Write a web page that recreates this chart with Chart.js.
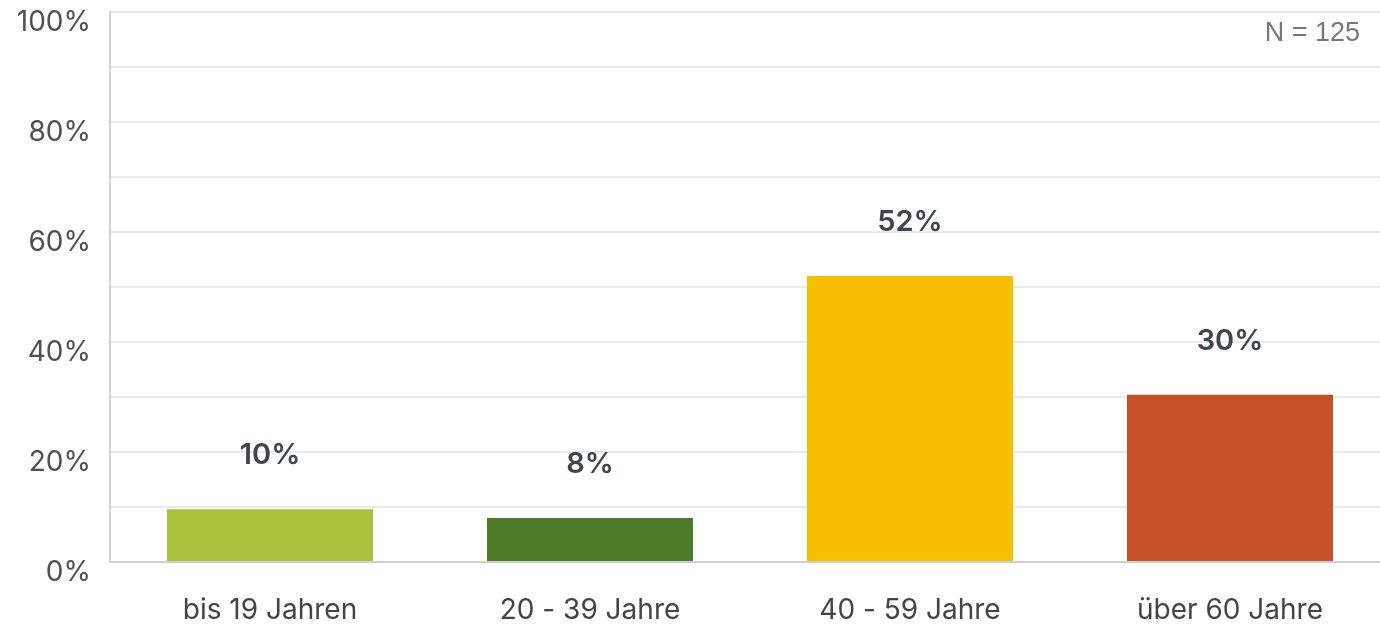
<!DOCTYPE html>
<html>
<head>
<meta charset="utf-8">
<script src="https://cdn.jsdelivr.net/npm/chart.js@4"></script>
<style>
  html, body { margin: 0; padding: 0; background: #fff; overflow: hidden; }
  #wrap { width: 1390px; height: 625px; position: relative; }
</style>
</head>
<body>
<div id="wrap"><canvas id="myChart"></canvas></div>
<script>
const categories = ["bis 19 Jahren", "20 - 39 Jahre", "40 - 59 Jahre", "über 60 Jahre"];
const values = [9.6, 8, 52, 30.4];
const labels = ["10%", "8%", "52%", "30%"];
const colors = ["#a8c23d", "#4e7b27", "#f8be00", "#c65028"];
const sampleText = "N = 125";

const barLabels = {
  id: 'barLabels',
  afterDatasetsDraw(chart) {
    const ctx = chart.ctx;
    const meta = chart.getDatasetMeta(0);
    ctx.save();
    ctx.font = "600 29px Inter, 'Liberation Sans', sans-serif";
    ctx.fillStyle = "#3d4550";
    ctx.textAlign = "center";
    ctx.textBaseline = "middle";
    meta.data.forEach((bar, i) => {
      ctx.fillText(labels[i], bar.x, bar.y - 54);
    });
    // N = 125
    ctx.font = "27px 'Liberation Sans', Arial, sans-serif";
    ctx.fillStyle = "#777";
    ctx.textAlign = "right";
    ctx.fillText(sampleText, 1360, 34);
    ctx.restore();
  }
};

const ctx = document.getElementById('myChart').getContext('2d');
const myChart = new Chart(ctx, {
  type: 'bar',
  data: {
    labels: categories,
    datasets: [{
      data: values,
      backgroundColor: colors,
      barPercentage: 0.644,
      categoryPercentage: 1
    }]
  },
  options: {
    responsive: true,
    maintainAspectRatio: false,
    animation: false,
    layout: { padding: { top: 12, right: 0, left: 0, bottom: 0 } },
    plugins: {
      legend: { display: false },
      tooltip: { enabled: false }
    },
    scales: {
      x: {
        grid: { display: false, drawTicks: false },
        border: { color: "#cfcfcf", width: 2 },
        ticks: {
          color: "#444",
          font: { family: "Inter, 'Liberation Sans', sans-serif", size: 28 },
          padding: 32
        },
        afterFit(scale) { scale.height = 63; scale.paddingLeft = 0; scale.paddingRight = 0; }
      },
      y: {
        min: 0,
        max: 100,
        grid: { color: "#e9ebeb", lineWidth: 2, drawTicks: false },
        border: { color: "#d4d4d4", width: 2 },
        ticks: {
          stepSize: 10,
          color: "#4f4f4f",
          font: { family: "Inter, 'Liberation Sans', sans-serif", size: 28 },
          padding: 19,
          labelOffset: 11,
          callback: (v) => v % 20 === 0 ? v + "%" : ""
        },
        afterFit(scale) { scale.width = 110; scale.paddingTop = 0; scale.paddingBottom = 0; }
      }
    }
  },
  plugins: [barLabels]
});
</script>
</body>
</html>
